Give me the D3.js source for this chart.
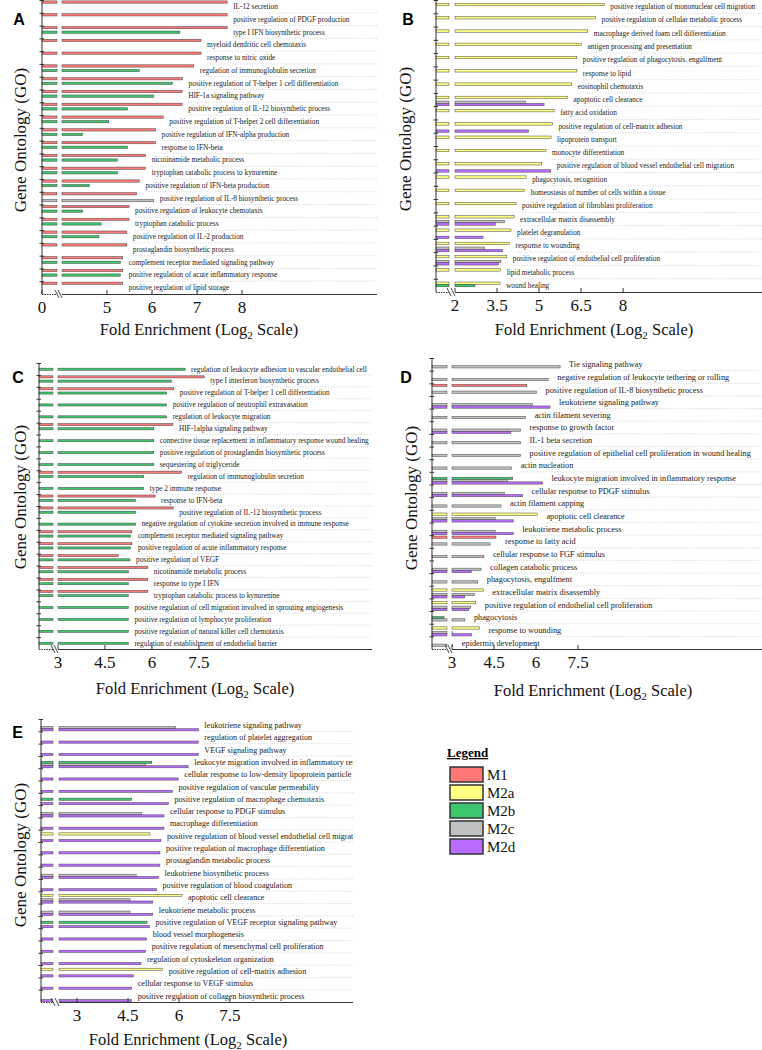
<!DOCTYPE html>
<html>
<head>
<meta charset="utf-8">
<script src="https://cdn.jsdelivr.net/npm/d3@7"></script>
<style>
  body { margin: 0; background: #fff; }
  svg { display: block; }
</style>
</head>
<body>
<div id="chart"></div>
<script>
// GO enrichment panels A-E, one grouped horizontal bar chart each, with a broken x axis

const _ = null;
const seriesKeys = ['M1', 'M2a', 'M2b', 'M2c', 'M2d'];
const seriesColors = ['#ff7777', '#ffff80', '#3cc76c', '#c0c0c0', '#b96cff'];

// ---- panel A ----
const termsA = [
  'IL-12 secretion', 'positive regulation of PDGF production', 'type I IFN biosynthetic process',
  'myeloid dendritic cell chemotaxis', 'response to nitric oxide', 'regulation of immunoglobulin secretion',
  'positive regulation of T-helper 1 cell differentiation', 'HIF-1a signaling pathway',
  'positive regulation of IL-12 biosynthetic process', 'positive regulation of T-helper 2 cell differentiation',
  'positive regulation of IFN-alpha production', 'response to IFN-beta', 'nicotinamide metabolic process',
  'tryptophan catabolic process to kynurenine', 'positive regulation of IFN-beta production',
  'positive regulation of IL-8 biosynthetic process', 'positive regulation of leukocyte chemotaxis',
  'tryptophan catabolic process', 'positive regulation of IL-2 production', 'prostaglandin biosynthetic process',
  'complement receptor mediated signaling pathway', 'positive regulation of acute inflammatory response',
  'positive regulation of lipid storage'
];
const aM1 = [7.67, 7.67, 7.67, 7.09, 7.09, 6.93, 6.68, 6.67, 6.67, 6.25, 6.08, 6.08, 5.86, 5.86, 5.72, 5.66, 5.49, 5.49, 5.44, 5.44, 5.35, 5.35, 5.35];
const aM2b = [_, _, 6.62, _, _, 5.72, 6.46, 6.04, 5.46, 5.04, 4.46, 5.46, 5.23, 5.23, 4.61, _, 4.46, 4.87, 4.82, _, 5.30, 5.30, _];
const aM2c = [_, _, _, _, _, _, _, _, _, _, _, _, _, _, _, 6.04, _, _, _, _, _, _, _];
const ticksA = [0, 5, 6, 7, 8];

// ---- panel B ----
const termsB = [
  'positive regulation of mononuclear cell migration', 'positive regulation of cellular metabolic process',
  'macrophage derived foam cell differentiation', 'antigen processing and presentation',
  'positive regulation of phagocytosis, engulfment', 'response to lipid', 'eosinophil chemotaxis',
  'apoptotic cell clearance', 'fatty acid oxidation', 'positive regulation of cell-matrix adhesion',
  'lipoprotein transport', 'monocyte differentiation',
  'positive regulation of blood vessel endothelial cell migration', 'phagocytosis, recognition',
  'homeostasis of number of cells within a tissue', 'positive regulation of fibroblast proliferation',
  'extracellular matrix disassembly', 'platelet degranulation', 'response to wounding',
  'positive regulation of endothelial cell proliferation', 'lipid metabolic process', 'wound healing'
];
const bM2a = [7.33, 7.02, 6.74, 6.52, 6.35, 6.35, 6.17, 6.02, 5.54, 5.48, 5.43, 5.25, 5.10, 4.54, 4.49, 4.18, 4.11, 4.00, 3.95, 3.85, 3.63, 3.61];
const bM2b = [_, _, _, _, _, _, _, _, _, _, _, _, _, _, _, _, _, _, _, _, _, 2.71];
const bM2c = [_, _, _, _, _, _, _, 4.52, _, _, _, _, _, _, _, _, 3.77, _, 3.06, 3.64, _, _];
const bM2d = [_, _, _, _, _, _, _, 5.18, _, 4.63, _, _, 5.42, _, _, _, 3.44, 3.00, 3.70, 3.55, _, _];
const ticksB = [2, 3.5, 5, 6.5, 8];

// ---- panel C ----
const termsC = [
  'regulation of leukocyte adhesion to vascular endothelial cell', 'type I interferon biosynthetic process',
  'positive regulation of T-helper 1 cell differentiation', 'positive regulation of neutrophil extravasation',
  'regulation of leukocyte migration', 'HIF-1alpha signaling pathway',
  'connective tissue replacement in inflammatory response wound healing',
  'positive regulation of prostaglandin biosynthetic process', 'sequestering of triglyceride',
  'regulation of immunoglobulin secretion', 'type 2 immune response', 'response to IFN-beta',
  'positive regulation of IL-12 biosynthetic process',
  'negative regulation of cytokine secretion involved in immune response',
  'complement receptor mediated signaling pathway', 'positive regulation of acute inflammatory response',
  'positive regulation of VEGF', 'nicotinamide metabolic process', 'response to type I IFN',
  'tryptophan catabolic process to kynurenine',
  'positive regulation of cell migration involved in sprouting angiogenesis',
  'positive regulation of lymphocyte proliferation', 'positive regulation of natural killer cell chemotaxis',
  'regulation of establishment of endothelial barrier'
];
const cM1 = [_, 7.67, 6.70, _, _, 6.67, _, _, _, 6.95, _, 6.10, 6.68, _, 5.36, 5.36, 4.93, 5.87, 5.87, 5.87, _, _, _, _];
const cM2b = [7.06, 6.63, 6.47, 6.47, 6.47, 6.06, 6.06, 6.06, 6.06, 5.74, 5.74, 5.48, 5.48, 5.48, 5.32, 5.32, 5.30, 5.25, 5.25, 5.25, 5.25, 5.25, 5.25, 5.25];
const ticksC = [3, 4.5, 6, 7.5];

// ---- panel D ----
const termsD = [
  'Tie signaling pathway', 'negative regulation of leukocyte tethering or rolling',
  'positive regulation of IL-8 biosynthetic process', 'leukotriene signaling pathway', 'actin filament severing',
  'response to growth factor', 'IL-1 beta secretion',
  'positive regulation of epithelial cell proliferation in wound healing', 'actin nucleation',
  'leukocyte migration involved in inflammatory response', 'cellular response to PDGF stimulus',
  'actin filament capping', 'apoptotic cell clearance', 'leukotriene metabolic process', 'response to fatty acid',
  'cellular response to FGF stimulus', 'collagen catabolic process', 'phagocytosis, engulfment',
  'extracellular matrix disassembly', 'positive regulation of endothelial cell proliferation', 'phagocytosis',
  'response to wounding', 'epidermis development'
];
const dM1 = [_, _, 5.67, _, _, _, _, _, _, _, _, _, _, _, 4.57, _, _, _, _, _, _, _, _];
const dM2a = [_, _, _, _, _, _, _, _, _, _, _, _, 6.05, _, _, _, _, _, 4.12, 3.85, _, 3.98, _];
const dM2b = [_, _, _, _, _, _, _, _, _, 5.17, _, _, _, _, _, _, _, _, _, _, 2.60, _, _];
const dM2c = [6.86, 6.44, 6.02, 5.87, 5.63, 5.45, 5.45, 5.45, 5.13, 4.99, 4.87, 4.75, 4.54, 4.54, 4.36, 4.14, 4.04, 3.92, 3.80, 3.67, 3.46, 3.02, 3.03];
const dM2d = [_, _, _, 6.50, _, 5.10, _, _, _, 6.23, 5.52, _, 5.19, 5.19, _, _, 3.69, _, 3.45, 3.60, _, 3.70, _];
const ticksD = [3, 4.5, 6, 7.5];

// ---- panel E ----
const termsE = [
  'leukotriene signaling pathway', 'regulation of platelet aggregation', 'VEGF signaling pathway',
  'leukocyte migration involved in inflammatory response',
  'cellular response to low-density lipoprotein particle stimulus',
  'positive regulation of vascular permeability', 'positive regulation of macrophage chemotaxis',
  'cellular response to PDGF stimulus', 'macrophage differentiation',
  'positive regulation of blood vessel endothelial cell migration',
  'positive regulation of macrophage differentiation', 'prostaglandin metabolic process',
  'leukotriene biosynthetic process', 'positive regulation of blood coagulation', 'apoptotic cell clearance',
  'leukotriene metabolic process', 'positive regulation of VEGF receptor signaling pathway',
  'blood vessel morphogenesis', 'positive regulation of mesenchymal cell proliferation',
  'regulation of cytoskeleton organization', 'positive regulation of cell-matrix adhesion',
  'cellular response to VEGF stimulus', 'positive regulation of collagen biosynthetic process'
];
const eM2a = [_, _, _, _, _, _, _, _, _, 5.15, _, _, _, _, 6.09, _, _, _, _, _, 5.52, _, _];
const eM2b = [_, _, _, 5.20, _, _, 4.61, _, _, _, _, _, _, _, _, _, 5.06, _, _, _, _, _, _];
const eM2c = [5.90, _, _, 5.02, _, _, _, 4.90, _, _, _, _, 4.74, _, 4.56, 4.56, _, _, _, _, _, _, _];
const eM2d = [6.57, 6.57, 6.57, 6.27, 5.98, 5.81, 5.69, 5.56, 5.56, 5.47, 5.44, 5.44, 5.40, 5.34, 5.23, 5.23, 5.13, 5.05, 5.02, 4.88, 4.66, 4.61, 4.61];
const ticksE = [3, 4.5, 6, 7.5];

// layout of each panel (pixels)
const panels = [
  { letter: 'A', terms: termsA, data: { M1: aM1, M2b: aM2b, M2c: aM2c }, ticks: ticksA,
    dom: [0, 4, 11], x0: 42, brk: 62, gapL: 57, x1: 377, top: 0, bottom: 294,
    font: 7.3, pad: 6, letterAt: [19, 25], yTitle: [20, 140], xTitle: [199, 335] },
  { letter: 'B', terms: termsB, data: { M2a: bM2a, M2b: bM2b, M2c: bM2c, M2d: bM2d }, ticks: ticksB,
    dom: [1.3, 2, 12.96], x0: 436, brk: 455, gapL: 449, x1: 762, top: 0, bottom: 292,
    font: 7.3, pad: 6, letterAt: [408, 25], yTitle: [405, 139], xTitle: [594, 335] },
  { letter: 'C', terms: termsC, data: { M1: cM1, M2b: cM2b }, ticks: ticksC,
    dom: [2.4, 3, 13.03], x0: 39, brk: 58, gapL: 53, x1: 372, top: 363, bottom: 649,
    font: 7.3, pad: 6, letterAt: [18, 383], yTitle: [20, 497], xTitle: [195, 694] },
  { letter: 'D', terms: termsD, data: { M1: dM1, M2a: dM2a, M2b: dM2b, M2c: dM2c, M2d: dM2d }, ticks: ticksD,
    dom: [2, 3, 14.07], x0: 432, brk: 452, gapL: 447, x1: 762, top: 358, bottom: 649,
    font: 8.3, pad: 9, letterAt: [406, 383], yTitle: [411, 498], xTitle: [593, 696] },
  { letter: 'E', terms: termsE, data: { M2a: eM2a, M2b: eM2b, M2c: eM2c, M2d: eM2d }, ticks: ticksE,
    dom: [2, 2.47, 11.12], x0: 41, brk: 59, gapL: 53, x1: 353, top: 719, bottom: 1002,
    font: 8.1, pad: 6, letterAt: [17.5, 738], yTitle: [20, 855], xTitle: [188, 1045] }
];

const serif = '"Liberation Serif", "Times New Roman", serif';
const color = d3.scaleOrdinal().domain(seriesKeys).range(seriesColors);

const svg = d3.select('#chart').append('svg')
  .attr('width', 762).attr('height', 1050)
  .style('background', '#fff');
const defs = svg.append('defs');

function drawPanel(p) {
  const g = svg.append('g').attr('class', 'panel-' + p.letter);
  const n = p.terms.length;
  const x = d3.scaleLinear().domain(p.dom).range([p.x0, p.brk, p.x1]);
  const y = d3.scaleBand().domain(d3.range(n)).range([p.top, p.bottom]);
  const bw = y.bandwidth();
  // every series keeps its own slot inside a row
  const slot = d3.scaleBand().domain(seriesKeys).range([0.9, bw - 0.4]);
  const keys = Object.keys(p.data);

  const rows = p.terms.map((t, i) => {
    const vals = keys.map(k => ({ key: k, v: p.data[k][i] })).filter(d => d.v != null);
    return { i, term: t, vals, max: d3.max(vals, d => d.v) };
  });

  defs.append('clipPath').attr('id', 'clip' + p.letter)
    .append('rect')
    .attr('x', p.x0).attr('y', p.top - 6)
    .attr('width', p.x1 - p.x0).attr('height', p.bottom - p.top + 6);

  // dotted guide lines between rows
  g.append('g').selectAll('line')
    .data(rows.slice(0, n - 1))
    .join('line')
    .attr('x1', d => x(d.max) + p.pad).attr('x2', p.x1)
    .attr('y1', d => y(d.i) + bw).attr('y2', d => y(d.i) + bw)
    .attr('stroke', '#bdbdbd').attr('stroke-width', 0.6)
    .attr('stroke-dasharray', '1.2 1.6');

  // bars, cut at the axis break
  const pieces = rows.flatMap(r => r.vals.flatMap(b => {
    const xe = x(b.v);
    const yy = y(r.i) + slot(b.key);
    const out = [{ key: b.key, y: yy, xa: p.x0, xb: Math.min(xe, p.gapL) }];
    if (xe > p.brk) out.push({ key: b.key, y: yy, xa: p.brk, xb: xe });
    return out;
  }));
  g.append('g').selectAll('rect')
    .data(pieces)
    .join('rect')
    .attr('x', d => d.xa).attr('width', d => d.xb - d.xa)
    .attr('y', d => d.y).attr('height', slot.bandwidth())
    .attr('fill', d => color(d.key))
    .attr('stroke', '#444').attr('stroke-width', 0.5);

  // term labels
  g.append('g').attr('clip-path', 'url(#clip' + p.letter + ')')
    .selectAll('text')
    .data(rows)
    .join('text')
    .attr('x', d => x(d.max) + p.pad)
    .attr('y', d => y(d.i) + bw / 2)
    .attr('dy', '0.35em')
    .attr('font-family', serif).attr('font-size', p.font)
    .attr('fill', '#222')
    .text(d => d.term);

  // y axis with ticks on row boundaries
  g.append('line')
    .attr('x1', p.x0).attr('x2', p.x0).attr('y1', p.top).attr('y2', p.bottom)
    .attr('stroke', '#333').attr('stroke-width', 1);
  g.append('g').selectAll('line')
    .data(d3.range(n))
    .join('line')
    .attr('x1', p.x0 - 2.5).attr('x2', p.x0 + 2)
    .attr('y1', d => y(d) + 0.5).attr('y2', d => y(d) + 0.5)
    .attr('stroke', '#333').attr('stroke-width', 1);

  // x axis, broken between gapL and brk
  const ax = g.append('g');
  ax.append('line')
    .attr('x1', p.brk).attr('x2', p.x1).attr('y1', p.bottom + 0.5).attr('y2', p.bottom + 0.5)
    .attr('stroke', '#333').attr('stroke-width', 1);
  ax.append('line')
    .attr('x1', p.x0).attr('x2', p.gapL).attr('y1', p.bottom + 0.5).attr('y2', p.bottom + 0.5)
    .attr('stroke', '#333').attr('stroke-width', 1).attr('stroke-dasharray', '1.5 1');
  [p.gapL, p.brk - 2].forEach(bx => {
    ax.append('line')
      .attr('x1', bx - 2).attr('x2', bx + 2)
      .attr('y1', p.bottom - 4).attr('y2', p.bottom + 4)
      .attr('stroke', '#333').attr('stroke-width', 0.9);
  });
  ax.selectAll('.tick').data(p.ticks)
    .join('line')
    .attr('x1', d => x(d)).attr('x2', d => x(d))
    .attr('y1', p.bottom - 4).attr('y2', p.bottom)
    .attr('stroke', '#333').attr('stroke-width', 1);
  ax.selectAll('.tl').data(p.ticks)
    .join('text')
    .attr('x', d => x(d)).attr('y', p.bottom + 19)
    .attr('text-anchor', 'middle')
    .attr('font-family', serif).attr('font-size', 17)
    .attr('fill', '#111')
    .text(d => d);

  // axis titles
  const xt = g.append('text')
    .attr('x', p.xTitle[0]).attr('y', p.xTitle[1])
    .attr('text-anchor', 'middle')
    .attr('font-family', serif).attr('font-size', 16.5).attr('fill', '#111');
  xt.append('tspan').text('Fold Enrichment (Log');
  xt.append('tspan').attr('font-size', 11).attr('dy', 4).text('2');
  xt.append('tspan').attr('dy', -4).text(' Scale)');

  g.append('text')
    .attr('transform', `translate(${p.yTitle[0]},${p.yTitle[1]}) rotate(-90)`)
    .attr('text-anchor', 'middle').attr('dominant-baseline', 'central')
    .attr('font-family', serif).attr('font-size', 17).attr('fill', '#111')
    .text('Gene Ontology (GO)');

  g.append('text')
    .attr('x', p.letterAt[0]).attr('y', p.letterAt[1])
    .attr('text-anchor', 'middle')
    .attr('font-family', '"Liberation Sans", Arial, sans-serif')
    .attr('font-weight', 'bold').attr('font-size', 16)
    .attr('fill', '#000')
    .text(p.letter);
}

panels.forEach(drawPanel);

// legend
const lg = svg.append('g').attr('class', 'legend');
lg.append('text')
  .attr('x', 447).attr('y', 757)
  .attr('font-family', serif).attr('font-weight', 'bold').attr('font-size', 13)
  .attr('text-decoration', 'underline')
  .text('Legend');
const ly = d3.scaleBand().domain(seriesKeys).range([767, 857]);
lg.selectAll('rect').data(seriesKeys)
  .join('rect')
  .attr('x', 450).attr('y', d => ly(d))
  .attr('width', 33).attr('height', 15)
  .attr('fill', d => color(d))
  .attr('stroke', '#333').attr('stroke-width', 1.5);
lg.selectAll('.lt').data(seriesKeys)
  .join('text')
  .attr('x', 487).attr('y', d => ly(d) + 13)
  .attr('font-family', serif).attr('font-size', 15)
  .attr('fill', '#111')
  .text(d => d);
</script>
</body>
</html>
